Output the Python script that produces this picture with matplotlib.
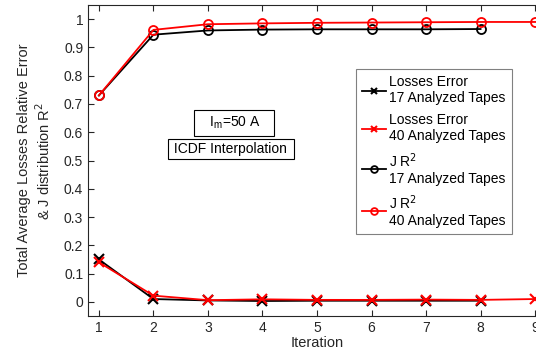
import numpy as np
import matplotlib.pyplot as plt

plt.rcParams['font.family'] = ['Liberation Sans', 'DejaVu Sans']

# data
it17 = [1, 2, 3, 4, 5, 6, 7, 8]
it40 = [1, 2, 3, 4, 5, 6, 7, 8, 9]
loss17 = [0.150, 0.010, 0.005, 0.003, 0.004, 0.004, 0.004, 0.004]
loss40 = [0.140, 0.022, 0.006, 0.009, 0.007, 0.007, 0.008, 0.007, 0.010]
r2_17 = [0.730, 0.945, 0.960, 0.963, 0.964, 0.964, 0.964, 0.965]
r2_40 = [0.730, 0.962, 0.982, 0.985, 0.987, 0.988, 0.989, 0.990, 0.990]

fig = plt.figure(figsize=(5.36, 3.51), dpi=100)
# axes right edge runs off the figure as in the cropped original
ax = fig.add_axes([88 / 536, 35 / 351, 458 / 536, 311 / 351])

ax.plot(it17, loss17, '-x', color='black', lw=1.3, ms=6.5, mew=1.5,
        label='Losses Error\n17 Analyzed Tapes')
ax.plot(it40, loss40, '-x', color='red', lw=1.3, ms=6.5, mew=1.5,
        label='Losses Error\n40 Analyzed Tapes')
ax.plot(it17, r2_17, '-o', color='black', lw=1.3, ms=6.5, mew=1.3, mfc='none',
        label='J R$^2$\n17 Analyzed Tapes')
ax.plot(it40, r2_40, '-o', color='red', lw=1.3, ms=6.5, mew=1.3, mfc='none',
        label='J R$^2$\n40 Analyzed Tapes')

ax.set_xlim(0.8, 9.2)
ax.set_ylim(-0.05, 1.05)
ax.set_xticks(range(1, 10))
ax.set_yticks(np.arange(0, 1.01, 0.1))
ax.set_yticklabels(['0', '0.1', '0.2', '0.3', '0.4', '0.5', '0.6', '0.7', '0.8', '0.9', '1'])
ax.tick_params(direction='in', top=True, labelsize=10, colors='#262626', length=4)
for s in ax.spines.values():
    s.set_color('#262626')
ax.spines['right'].set_visible(False)

ax.set_xlabel('Iteration', fontsize=10.5, color='#262626', labelpad=1)
ax.set_ylabel('Total Average Losses Relative Error\n& J distribution R$^2$',
              fontsize=10.5, color='#262626', labelpad=8)

ax.text(3.47, 0.634, '   I$_\\mathregular{m}$=50 A   ', fontsize=10, ha='center', va='center',
        bbox=dict(boxstyle='square,pad=0.35', fc='white', ec='black', lw=0.8))
ax.text(3.42, 0.541, ' ICDF Interpolation ', fontsize=10, ha='center', va='center',
        bbox=dict(boxstyle='square,pad=0.2', fc='white', ec='black', lw=0.8))

leg = ax.legend(loc='upper left', bbox_to_anchor=((356 - 88) / 458, 1 - 64 / 311),
                fontsize=10, handlelength=1.7, handletextpad=0.25,
                labelspacing=0.55, borderpad=0.45, borderaxespad=0,
                fancybox=False, framealpha=1, markerscale=0.75)
leg.get_frame().set_edgecolor('#808080')
leg.get_frame().set_linewidth(0.8)

fig.savefig('out.png', dpi=100)
